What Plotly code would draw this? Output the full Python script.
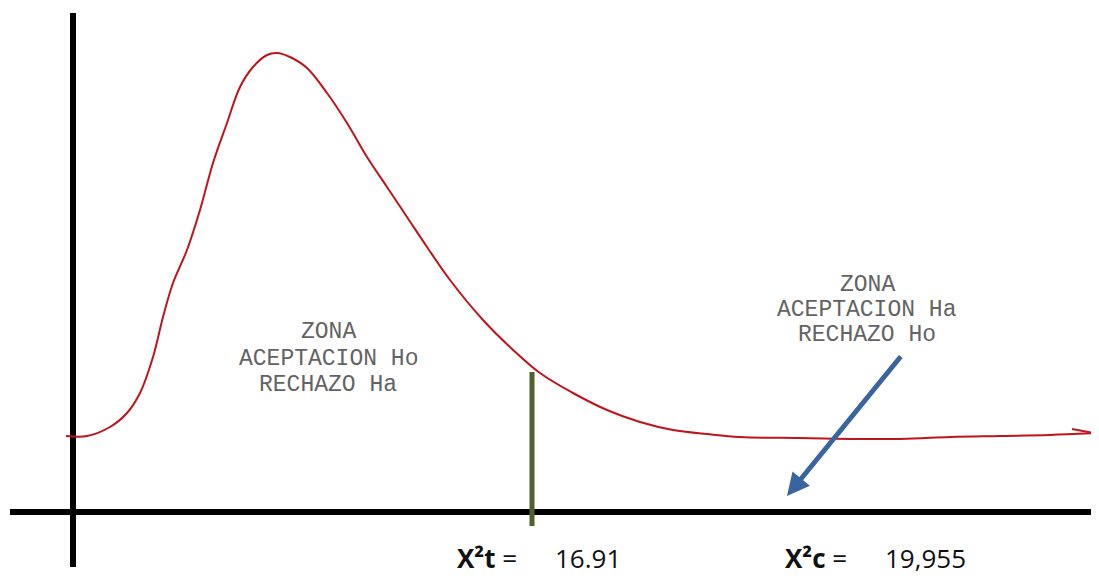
import plotly.graph_objects as go

# Hand-drawn chi-square density curve (schematic units, origin at the axes crossing)
curve_x = [-7, 14, 37, 54, 67, 80, 90, 100, 114, 127, 140, 154, 167, 180, 194, 204, 217, 234,
           254, 274, 294, 314, 334, 354, 377, 410, 437, 467, 500, 534, 567, 600, 634, 667,
           727, 827, 877, 927, 977, 1026]
curve_y = [76, 76, 85, 99, 119, 155, 195, 229, 262, 302, 349, 389, 425, 445, 457, 459, 455, 444,
           419, 389, 355, 325, 295, 265, 232, 192, 165, 139, 119, 102, 90, 82, 78, 75,
           74, 73, 75, 76, 77, 79]

# small arrow stroke at the right end of the curve
tip_x = [999, 1026]
tip_y = [83, 78]

# critical value marker (X²t)
crit_x = [459, 459]
crit_y = [140, -14]

# blue arrow pointing to X²c region
arrow_tail = (829, 157)
arrow_head = (714, 16)

left_zone_lines = ["ZONA", "ACEPTACION Ho", "RECHAZO Ha"]
left_zone_x = 255
left_zone_y = [180, 153, 127]

right_zone_lines = ["ZONA", "ACEPTACION Ha", "RECHAZO Ho"]
right_zone_x = 794
right_zone_y = [227, 202, 177]

bottom_labels = ["<b>X²t</b> =", "16.91", "<b>X²c</b> =", "19,955"]
bottom_x = [382, 480, 710, 810]
bottom_y = -46

RED = "#c0141c"
GREEN = "#4f6228"
BLUE = "#3a64a0"
GREY = "#636363"

fig = go.Figure()
fig.add_trace(go.Scatter(x=curve_x, y=curve_y, mode="lines",
                         line=dict(color=RED, width=2, shape="spline", smoothing=1.0),
                         hoverinfo="skip"))
fig.add_trace(go.Scatter(x=tip_x, y=tip_y, mode="lines",
                         line=dict(color=RED, width=2), hoverinfo="skip"))
fig.add_trace(go.Scatter(x=crit_x, y=crit_y, mode="lines",
                         line=dict(color=GREEN, width=5), hoverinfo="skip"))

mono = "Courier New, Liberation Mono, monospace"
for t, yy in zip(left_zone_lines, left_zone_y):
    fig.add_annotation(x=left_zone_x, y=yy, text=t, showarrow=False,
                       font=dict(family=mono, size=23, color=GREY),
                       xanchor="center", yanchor="middle")
for t, yy in zip(right_zone_lines, right_zone_y):
    fig.add_annotation(x=right_zone_x, y=yy, text=t, showarrow=False,
                       font=dict(family=mono, size=23, color=GREY),
                       xanchor="center", yanchor="middle")

for t, xx in zip(bottom_labels, bottom_x):
    fig.add_annotation(x=xx, y=bottom_y, text=t, showarrow=False,
                       font=dict(family="Open Sans, Noto Sans, sans-serif", size=26, color="#111111"),
                       xanchor="left", yanchor="middle")

fig.add_annotation(x=arrow_head[0], y=arrow_head[1], ax=arrow_tail[0], ay=arrow_tail[1],
                   xref="x", yref="y", axref="x", ayref="y", text="",
                   showarrow=True, arrowhead=2, arrowsize=0.9, arrowwidth=5,
                   arrowcolor=BLUE)

fig.update_layout(
    width=1091, height=568,
    margin=dict(l=2, r=0, t=5, b=9),
    paper_bgcolor="white", plot_bgcolor="white",
    showlegend=False,
    xaxis=dict(range=[-63, 1026], showgrid=False, showticklabels=False, ticks="",
               zeroline=True, zerolinecolor="black", zerolinewidth=6, fixedrange=True),
    yaxis=dict(range=[-55, 499], showgrid=False, showticklabels=False, ticks="",
               zeroline=True, zerolinecolor="black", zerolinewidth=6, fixedrange=True),
)

fig.write_html("out.html", default_width="1091px", default_height="568px")
